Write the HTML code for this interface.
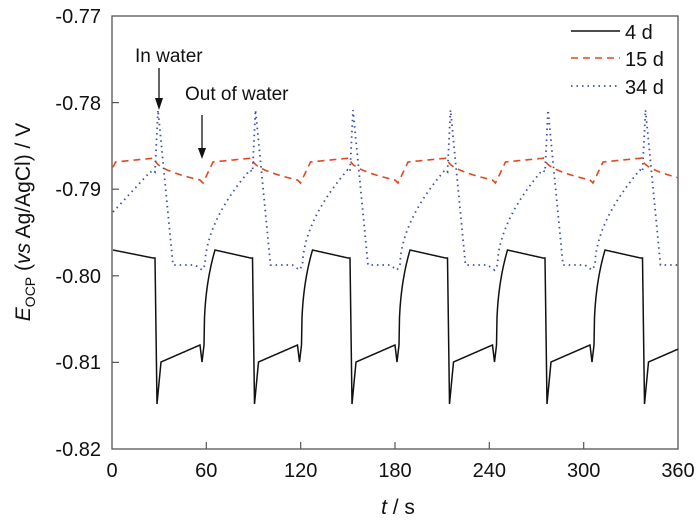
<!DOCTYPE html>
<html><head><meta charset="utf-8"><style>
body{margin:0;background:#fff;}
svg{display:block;font-family:"Liberation Sans",sans-serif;}
</style></head><body>
<svg id="s" width="700" height="523" viewBox="0 0 700 523">
<rect x="112" y="16" width="566" height="433" fill="none" stroke="#555" stroke-width="1.3"/>
<g stroke="#555" stroke-width="1.2">
<line x1="206.3" y1="449" x2="206.3" y2="442"/><line x1="300.7" y1="449" x2="300.7" y2="442"/>
<line x1="395" y1="449" x2="395" y2="442"/><line x1="489.3" y1="449" x2="489.3" y2="442"/>
<line x1="583.7" y1="449" x2="583.7" y2="442"/>
<line x1="112" y1="102.6" x2="119" y2="102.6"/><line x1="112" y1="189.2" x2="119" y2="189.2"/>
<line x1="112" y1="275.8" x2="119" y2="275.8"/><line x1="112" y1="362.4" x2="119" y2="362.4"/>
</g>
<g font-size="20" fill="#111" text-anchor="end">
<text x="101" y="23">-0.77</text><text x="101" y="110">-0.78</text><text x="101" y="196">-0.79</text>
<text x="101" y="283">-0.80</text><text x="101" y="369">-0.81</text><text x="101" y="456">-0.82</text>
</g>
<g font-size="20" fill="#111" text-anchor="middle">
<text x="112" y="477">0</text><text x="206.3" y="477">60</text><text x="300.7" y="477">120</text>
<text x="395" y="477">180</text><text x="489.3" y="477">240</text><text x="583.7" y="477">300</text><text x="678" y="477">360</text>
<text x="398" y="514" font-size="21"><tspan font-style="italic">t</tspan> / s</text>
</g>
<text transform="translate(30,222) rotate(-90)" font-size="21" fill="#111" text-anchor="middle"><tspan font-style="italic">E</tspan><tspan font-size="14" dy="5">OCP</tspan><tspan dy="-5"> (</tspan><tspan font-style="italic">vs</tspan> Ag/AgCl) / V</text>
<g font-size="19" fill="#111">
<text x="135" y="62">In water</text>
<text x="185" y="100">Out of water</text>
</g>
<g stroke="#111" stroke-width="1.3"><line x1="159" y1="68" x2="159" y2="100"/><line x1="202" y1="115" x2="202" y2="150"/></g>
<g fill="#111"><polygon points="155,98 163,98 159,110"/><polygon points="198,148 206,148 202,159"/></g>
<g font-size="20" fill="#111">
<text x="625" y="39">4 d</text><text x="625" y="66">15 d</text><text x="625" y="94">34 d</text>
</g>
<line x1="571" y1="31" x2="620" y2="31" stroke="#111" stroke-width="1.6"/>
<line x1="571" y1="58" x2="620" y2="58" stroke="#e04a20" stroke-width="1.6" stroke-dasharray="7 5"/>
<line x1="571" y1="86" x2="620" y2="86" stroke="#3a4fb0" stroke-width="1.8" stroke-dasharray="1.5 4"/>
<path id="pr" fill="none" stroke="#e04a20" stroke-width="1.6" stroke-dasharray="7 5"/>
<path id="pb" fill="none" stroke="#3a4fb0" stroke-width="1.8" stroke-dasharray="1.5 4"/>
<path id="pk" fill="none" stroke="#111" stroke-width="1.5"/>
</svg>
<script>
var P=97.5,D0=155;
function ph(x){var u=(x-D0)%P;if(u<0)u+=P;return u;}
function lerp(a,b,t){return a+(b-a)*t;}
function black(u){
 if(u<2)return lerp(258,404,u/2);
 if(u<6)return lerp(404,362,(u-2)/4);
 if(u<45)return lerp(362,345,(u-6)/39);
 if(u<47)return lerp(345,362,(u-45)/2);
 if(u<49)return lerp(362,345,(u-47)/2);
 if(u<60){var t=(u-49)/11;return lerp(345,250,Math.pow(t,0.4));}
 if(u<95.5)return lerp(250,258,(u-60)/35.5);
 return 258;
}
function red(u){
 if(u<45)return lerp(159,180,Math.sqrt(u/45));
 if(u<48)return lerp(180,183,(u-45)/3);
 if(u<58)return lerp(183,162,(u-48)/10);
 return lerp(162,158,(u-58)/(P-58));
}
function blue(u){
 if(u<3)return lerp(172,110,u/3);
 if(u<18)return lerp(110,265,(u-3)/15);
 if(u<40)return 265;
 if(u<47)return lerp(265,270,(u-40)/7);
 if(u<50)return lerp(270,265,(u-47)/3);
 if(u<95){return 265-95*Math.pow((u-50)/45,0.55);}
 return lerp(170,172,(u-95)/2.5);
}
function build(f,id,x0,pre){var d="";for(var x=x0;x<=678;x+=0.5){var y=(pre&&x<D0-2)?pre(x):f(ph(x));d+=(d?"L":"M")+x.toFixed(1)+","+y.toFixed(1);}document.getElementById(id).setAttribute("d",d);}
build(black,"pk",113,function(x){return lerp(250,258,(x-113)/40);});
build(red,"pr",113);
(function(){var d="M113,212";for(var x=113.5;x<=678;x+=0.5){var u=ph(x);var y=blue(u);if(x<150)y=lerp(212,172,(x-113)/37);d+="L"+x.toFixed(1)+","+y.toFixed(1);}document.getElementById("pb").setAttribute("d",d);})();
</script>
</body></html>
